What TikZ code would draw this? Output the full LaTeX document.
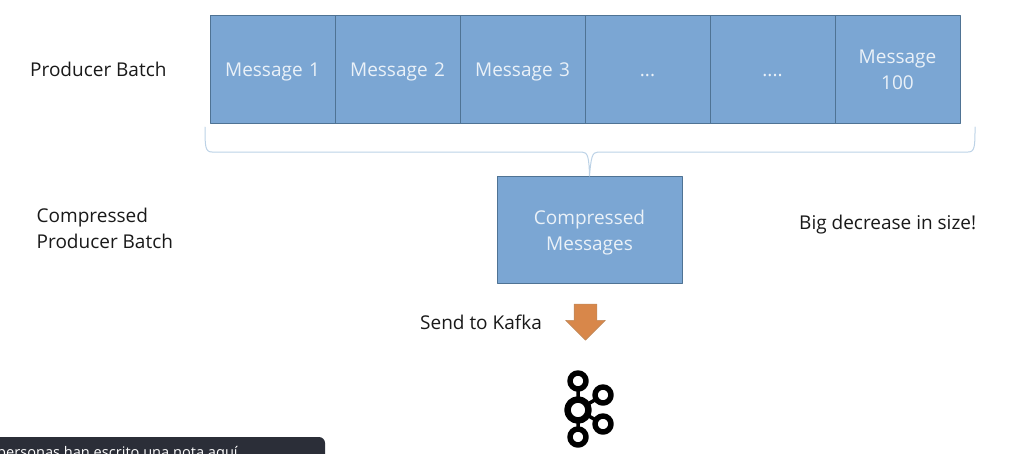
\documentclass[tikz,border=0pt]{standalone}
\usepackage{fontspec}
\setmainfont{Open Sans}
\usetikzlibrary{positioning,shapes.arrows}
\definecolor{cellfill}{HTML}{7BA6D3}
\definecolor{celledge}{HTML}{4F7394}
\definecolor{celltext}{HTML}{EAF1F8}
\definecolor{bracecol}{HTML}{BCD2E6}
\definecolor{arrowfill}{HTML}{D8874A}
\definecolor{arrowedge}{HTML}{C08A5C}
\definecolor{tipfill}{HTML}{2B2E38}
\begin{document}
\begin{tikzpicture}[x=1pt,y=-1pt,font=\fontsize{19}{26}\selectfont,line join=round,line cap=round,
	cell/.style={draw=celledge,fill=cellfill,text=celltext,line width=0.9pt,minimum width=125pt,minimum height=108pt,inner sep=0pt,outer sep=0pt,align=center,text width=105pt,execute at begin node=\rule{0pt}{20pt},execute at end node=\rule[-5pt]{0pt}{0pt}},
	lbl/.style={inner sep=0pt,anchor=west,align=left,text=black!90},
	ring/.style={circle,draw=black,fill=white,inner sep=0pt,line width=#1},
	]
	\useasboundingbox (0,0) rectangle (1009,453);
	\node[cell] (m1) at (272.5,69) {Message 1};
	\node[cell,right=0pt of m1] (m2) {Message 2};
	\node[cell,right=0pt of m2] (m3) {Message 3};
	\node[cell,right=0pt of m3] (m4) {...};
	\node[cell,right=0pt of m4] (m5) {....};
	\node[cell,right=0pt of m5] (m6) {Message\\100};
	\node[cell,minimum width=185pt,minimum height=107pt,text width=150pt] (comp) at (589.5,229.5) {Compressed\\Messages};
	\node[lbl] (prodlbl) at (30,69) {Producer Batch};
	\node[lbl] (complbl) at (36.5,228.5) {Compressed\\Producer Batch};
	\node[lbl] (sizelbl) at (799,225) {Big decrease in size!};
	\node[lbl] (sendlbl) at (420,322) {Send to Kafka};
	% brace under the batch
	\coordinate (brl) at (205,127);
	\coordinate (brr) at (975,127);
	\draw[bracecol,line width=1pt] (brl) .. controls (205,146) and (205,152) .. (212,152) -- (582,152) .. controls (588,152) and (589,158) .. (comp.north)
		.. controls (591,158) and (592,152) .. (598,152) -- (968,152) .. controls (975,152) and (975,146) .. (brr);
	\node[single arrow,draw=arrowedge,fill=arrowfill,rotate=-90,minimum height=36pt,minimum width=39pt,single arrow head extend=8.5pt,single arrow head indent=0pt,inner xsep=0pt,inner ysep=11pt,line width=0.6pt] (sendarrow) at (585.5,316.5) {};
	% kafka logo
	\draw[line width=3.5pt] (578,410) coordinate (khubc) -- (578,381) (khubc) -- (578,437) (khubc) -- (603,395) (khubc) -- (603,424);
	\node[ring=6.5pt,minimum size=21pt] (khub) at (khubc) {};
	\node[ring=5.5pt,minimum size=16pt] (ktop) at (578,381) {};
	\node[ring=5.5pt,minimum size=16pt] (kbot) at (578,437) {};
	\node[ring=5.5pt,minimum size=16pt] (kup) at (603,395) {};
	\node[ring=5.5pt,minimum size=16pt] (kdn) at (603,424) {};
	% note bar at the bottom
	\fill[tipfill,rounded corners=6pt] (-20,437) rectangle (325,480);
	\node[anchor=base west,inner sep=0pt,text=white,font=\fontsize{14.6}{16}\selectfont] (notetxt) at (-3,457) {personas han escrito una nota aquí.};
\end{tikzpicture}
\end{document}
